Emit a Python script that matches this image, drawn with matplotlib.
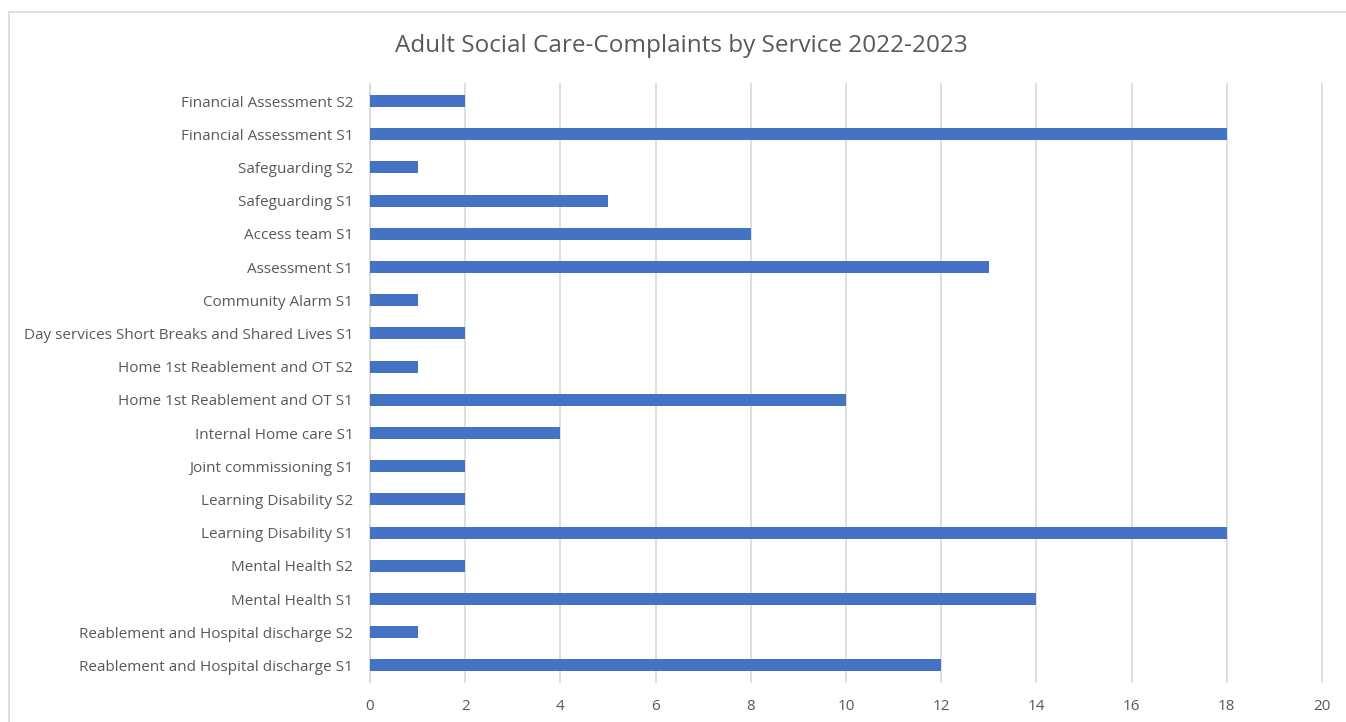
import matplotlib.pyplot as plt
from matplotlib.patches import Rectangle

plt.rcParams['font.family'] = ['Open Sans', 'DejaVu Sans']

# categories bottom to top
services = [
    'Reablement and Hospital discharge S1',
    'Reablement and Hospital discharge S2',
    'Mental Health S1',
    'Mental Health S2',
    'Learning Disability S1',
    'Learning Disability S2',
    'Joint commissioning S1',
    'Internal Home care S1',
    'Home 1st Reablement and OT S1',
    'Home 1st Reablement and OT S2',
    'Day services Short Breaks and Shared Lives S1',
    'Community Alarm S1',
    'Assessment S1',
    'Access team S1',
    'Safeguarding S1',
    'Safeguarding S2',
    'Financial Assessment S1',
    'Financial Assessment S2',
]
complaints = [12, 1, 14, 2, 18, 2, 2, 4, 10, 1, 2, 1, 13, 8, 5, 1, 18, 2]
x_ticks = list(range(0, 21, 2))

text_col = '#595959'
grid_col = '#d9d9d9'

fig = plt.figure(figsize=(13.46, 7.22), dpi=100)
ax = fig.add_axes([0.2749, 0.0554, 0.7073, 0.8276])

ypos = list(range(len(services)))
ax.barh(ypos, complaints, height=0.36, color='#4472C4', zorder=3)

ax.set_xlim(0, 20)
ax.set_ylim(-0.5, len(services) - 0.5)
ax.set_xticks(x_ticks)
ax.set_yticks(ypos)
ax.set_yticklabels(services)
ax.tick_params(axis='both', length=0, colors=text_col, labelsize=11)
ax.tick_params(axis='x', pad=12)
ax.tick_params(axis='y', pad=12)
ax.grid(axis='x', color=grid_col, linewidth=1.2, zorder=0)
for line in ax.get_xgridlines():
    line.set_clip_on(False)
for s in ['top', 'right', 'bottom']:
    ax.spines[s].set_visible(False)
ax.spines['left'].set_color(grid_col)

fig.text(0.506, 0.936, 'Adult Social Care-Complaints by Service 2022-2023',
         ha='center', va='center', fontsize=17.5, color=text_col)

# chart-area border
fig.patches.append(Rectangle((9 / 1346, -0.1), 1.2, 1 - 12 / 722 + 0.1,
                             transform=fig.transFigure, fill=False,
                             edgecolor='#d9d9d9', linewidth=1.2))

fig.savefig('out.png', dpi=100)
